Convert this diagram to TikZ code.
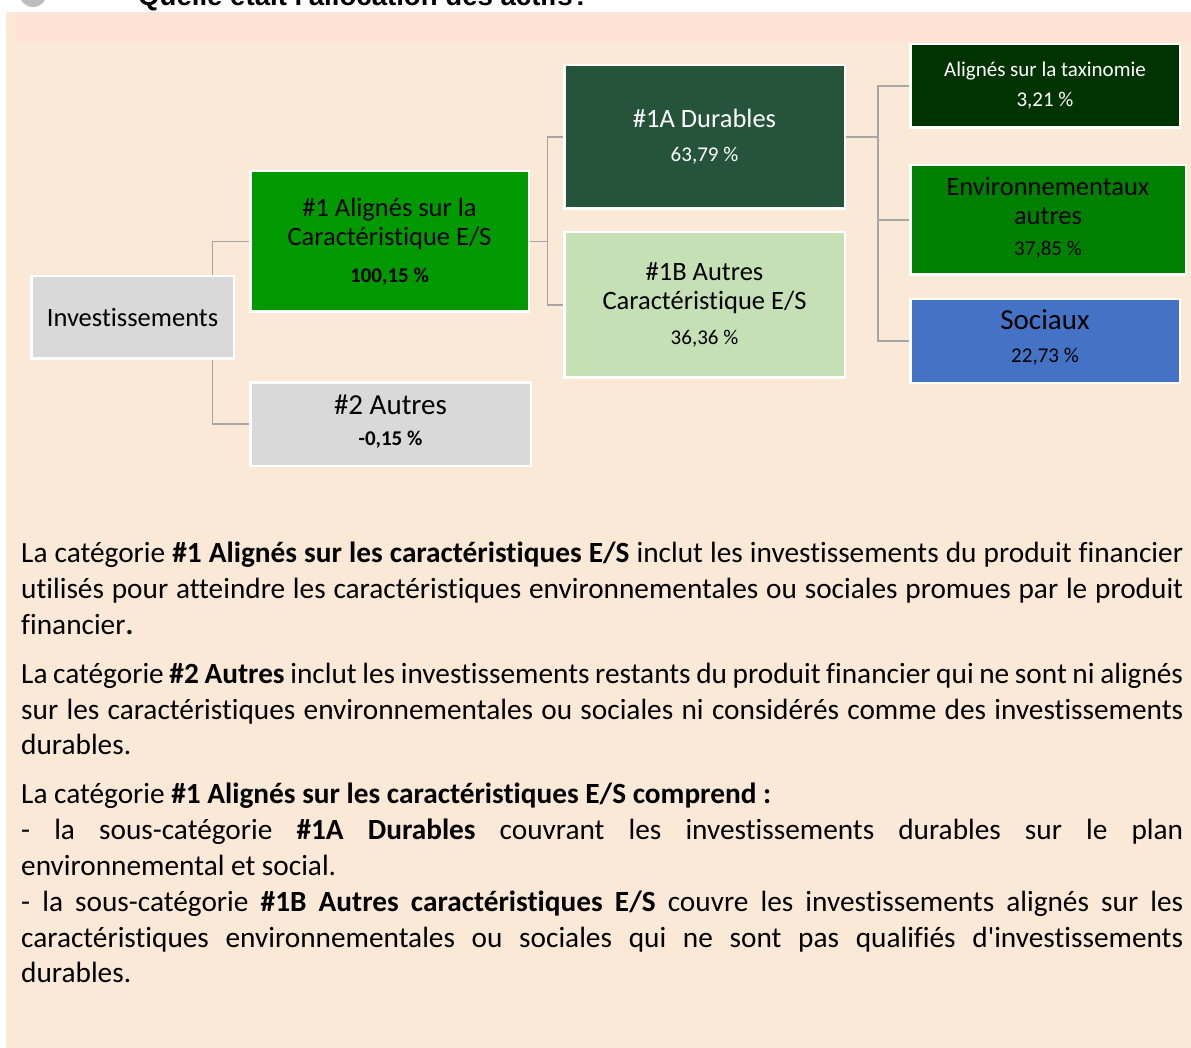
\documentclass[tikz,border=0pt]{standalone}
\usepackage{fontspec}
\setmainfont{Carlito}[Ligatures={TeXOff,CommonOff,ContextualOff}]
\newfontfamily\titlefont{Liberation Sans}
\definecolor{bgbeige}{RGB}{251,233,215}
\definecolor{bgpink}{RGB}{252,227,213}
\definecolor{boxgrey}{RGB}{217,217,217}
\definecolor{green1}{RGB}{0,153,0}
\definecolor{green1a}{RGB}{37,84,58}
\definecolor{green1b}{RGB}{197,224,180}
\definecolor{greentax}{RGB}{0,51,0}
\definecolor{greenenv}{RGB}{0,128,0}
\definecolor{bluesoc}{RGB}{68,114,196}
\definecolor{connc}{RGB}{166,166,166}
\definecolor{circgrey}{RGB}{190,190,190}
\newcommand{\fbig}{\fontsize{26.5}{29}\selectfont}
\newcommand{\fbigger}{\fontsize{29}{32}\selectfont}
\newcommand{\fpct}{\fontsize{21}{25}\selectfont}
\newcommand{\fbody}{\fontsize{29.3}{36}\selectfont}
\newcommand{\jline}[1]{\makebox[1162pt][s]{#1}}
\newcommand{\lowpad}[1]{\rule[-#1]{0pt}{0pt}}
\begin{document}
\begin{tikzpicture}[x=1pt,y=-1pt,
  box/.style={draw=white, line width=2.5pt, inner sep=0pt, align=center},
  conn/.style={draw=connc, line width=1.4pt},
  bodyline/.style={anchor=base west, inner sep=0pt, font=\fbody, text=black}]
\path[use as bounding box, clip] (0,0) rectangle (1191,1048);
\fill[white] (0,0) rectangle (1191,1048);
\fill[bgbeige] (6,12) rectangle (1191,1048);
\fill[bgpink] (16,12) rectangle (1191,42.5);
\fill[circgrey] (33,-7) circle (14);
\node[anchor=base west, inner sep=0pt, font=\titlefont\bfseries\fontsize{27.6}{30}\selectfont] (title) at (138,5.5) {Quelle était l'allocation des actifs?};

% junction coordinates
\coordinate (j1) at (212.5,0);
\coordinate (j2) at (547.5,0);
\coordinate (j3) at (878,0);

% connectors (drawn first, boxes cover their ends)
\coordinate (invN) at (212.5,275);
\coordinate (invS) at (212.5,360);

% boxes
\path (132.5,317.5) node[box, fill=boxgrey, minimum width=202.5pt, minimum height=82.5pt, font=\fbig] (inv) {Investissements};
\path (389.5,241.5) node[box, fill=green1, minimum width=278.5pt, minimum height=140.5pt, font=\fbig] (n1) {\#1 Alignés sur la\\Caractéristique E/S\\[8pt]{\fpct\bfseries 100,15 \%}};
\path (390.5,424) node[box, fill=boxgrey, minimum width=280.5pt, minimum height=83.5pt, font=\fbigger] (n2) {\#2 Autres\\[-1pt]{\fpct\bfseries -0,15 \%}\lowpad{8pt}};
\path (704.5,137) node[box, fill=green1a, text=white, minimum width=280.5pt, minimum height=143.5pt, font=\fbig] (n1a) {\#1A Durables\\[5pt]{\fpct 63,79 \%}};
\path (704.5,305) node[box, fill=green1b, minimum width=280.5pt, minimum height=145.5pt, font=\fbig] (n1b) {\#1B Autres\\Caractéristique E/S\\[6pt]{\fpct 36,36 \%}};
\path (1045,86) node[box, fill=greentax, text=white, minimum width=269.5pt, minimum height=83.5pt, font=\fpct] (tax) {Alignés sur la taxinomie\\[5pt]3,21 \%};
\path (1048,220) node[box, fill=greenenv, minimum width=275.5pt, minimum height=109.5pt, font=\fbig] (env) {Environnementaux\\autres\\[2pt]{\fpct 37,85 \%}\lowpad{7pt}};
\path (1045,341) node[box, fill=bluesoc, minimum width=269.5pt, minimum height=83.5pt, font=\fbigger] (soc) {Sociaux\\[1pt]{\fpct 22,73 \%}\lowpad{9pt}};

% connectors
\draw[conn] (inv.north -| j1) |- (n1.west);
\draw[conn] (inv.south -| j1) |- (n2.west);
\draw[conn] (n1.east) -- (n1.east -| j2);
\draw[conn] (n1a.west) -| (j2 |- n1b.west) -- (n1b.west);
\draw[conn] (n1a.east) -- (n1a.east -| j3);
\draw[conn] (tax.west) -| (j3 |- soc.west) -- (soc.west);
\draw[conn] (j3 |- env.west) -- (env.west);

% body text
\node[bodyline] (l1) at (21,562) {\jline{La catégorie \textbf{\#1 Alignés sur les caractéristiques E/S} inclut les investissements du produit financier}};
\node[bodyline] (l2) at (21,598) {\jline{utilisés pour atteindre les caractéristiques environnementales ou sociales promues par le produit}};
\node[bodyline] (l3) at (21,634) {financier\textbf{.}};
\node[bodyline] (l4) at (21,683) {\jline{La catégorie \textbf{\#2 Autres} inclut les investissements restants du produit financier qui ne sont ni alignés}};
\node[bodyline] (l5) at (21,719) {\jline{sur les caractéristiques environnementales ou sociales ni considérés comme des investissements}};
\node[bodyline] (l6) at (21,754) {durables.};
\node[bodyline] (l7) at (21,803) {La catégorie \textbf{\#1 Alignés sur les caractéristiques E/S comprend :}};
\node[bodyline] (l8) at (21,839) {\jline{- la sous-catégorie \textbf{\#1A Durables} couvrant les investissements durables sur le plan}};
\node[bodyline] (l9) at (21,875) {environnemental et social.};
\node[bodyline] (l10) at (21,911) {\jline{- la sous-catégorie \textbf{\#1B Autres caractéristiques E/S} couvre les investissements alignés sur les}};
\node[bodyline] (l11) at (21,947) {\jline{caractéristiques environnementales ou sociales qui ne sont pas qualifiés d'investissements}};
\node[bodyline] (l12) at (21,982) {durables.};
\end{tikzpicture}
\end{document}
